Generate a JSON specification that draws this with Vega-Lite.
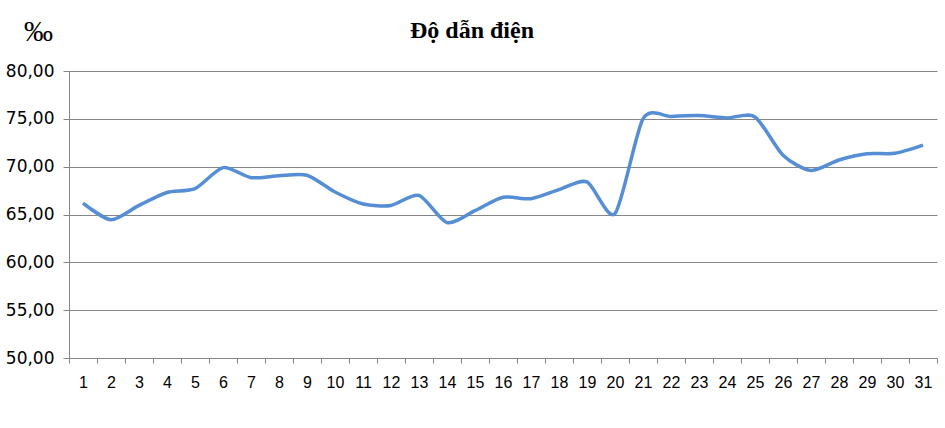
{
  "$schema": "https://vega.github.io/schema/vega-lite/v6.json",
  "width": 868,
  "height": 287,
  "autosize": {"type": "none"},
  "padding": {"left": 69, "top": 71, "right": 8, "bottom": 70},
  "background": "white",
  "config": {
    "view": {"stroke": null},
    "locale": {"number": {"decimal": ",", "thousands": ".", "grouping": [3], "currency": ["", ""]}}
  },
  "title": {
    "text": "Độ dẫn điện",
    "font": "Liberation Serif",
    "fontSize": 24,
    "fontWeight": "bold",
    "color": "#000000",
    "anchor": "middle",
    "frame": "group",
    "baseline": "alphabetic",
    "dx": -31,
    "offset": -45
  },
  "data": {
    "values": [
      {"day": 1, "v": 66.2},
      {"day": 2, "v": 64.45},
      {"day": 3, "v": 65.95},
      {"day": 4, "v": 67.3},
      {"day": 5, "v": 67.7},
      {"day": 6, "v": 69.9},
      {"day": 7, "v": 68.85},
      {"day": 8, "v": 69.05},
      {"day": 9, "v": 69.1},
      {"day": 10, "v": 67.35},
      {"day": 11, "v": 66.1},
      {"day": 12, "v": 65.95},
      {"day": 13, "v": 67.0},
      {"day": 14, "v": 64.15},
      {"day": 15, "v": 65.4},
      {"day": 16, "v": 66.8},
      {"day": 17, "v": 66.65},
      {"day": 18, "v": 67.6},
      {"day": 19, "v": 68.4},
      {"day": 20, "v": 65.1},
      {"day": 21, "v": 75.0},
      {"day": 22, "v": 75.25},
      {"day": 23, "v": 75.35},
      {"day": 24, "v": 75.1},
      {"day": 25, "v": 75.2},
      {"day": 26, "v": 71.2},
      {"day": 27, "v": 69.6},
      {"day": 28, "v": 70.7},
      {"day": 29, "v": 71.35},
      {"day": 30, "v": 71.4},
      {"day": 31, "v": 72.25}
    ]
  },
  "resolve": {"axis": {"x": "independent"}},
  "layer": [
    {
      "mark": {"type": "rule", "strokeOpacity": 0},
      "encoding": {
        "x": {
          "field": "day",
          "type": "quantitative",
          "scale": {"domain": [0.5, 31.5], "nice": false, "zero": false},
          "axis": {
            "orient": "bottom",
            "title": null,
            "values": [0.5,1.5,2.5,3.5,4.5,5.5,6.5,7.5,8.5,9.5,10.5,11.5,12.5,13.5,14.5,15.5,16.5,17.5,18.5,19.5,20.5,21.5,22.5,23.5,24.5,25.5,26.5,27.5,28.5,29.5,30.5,31.5],
            "labels": false,
            "grid": false,
            "domain": true,
            "domainColor": "#868686",
            "domainWidth": 1,
            "ticks": true,
            "tickColor": "#868686",
            "tickSize": 5
          }
        }
      }
    },
    {
      "mark": {"type": "line", "interpolate": "cardinal", "tension": 0.25, "color": "#558ED5", "strokeWidth": 3.5},
      "encoding": {
        "x": {
          "field": "day",
          "type": "quantitative",
          "axis": {
            "orient": "bottom",
            "title": null,
            "values": [1,2,3,4,5,6,7,8,9,10,11,12,13,14,15,16,17,18,19,20,21,22,23,24,25,26,27,28,29,30,31],
            "format": "d",
            "grid": false,
            "ticks": false,
            "domain": false,
            "labelFont": "Liberation Sans Narrow, Liberation Sans",
            "labelFontSize": 16,
            "labelColor": "#000000",
            "labelPadding": 16,
            "labelFlush": false,
            "labelOverlap": false
          }
        },
        "y": {
          "field": "v",
          "type": "quantitative",
          "scale": {"domain": [50, 80], "nice": false, "zero": false},
          "axis": {
            "title": "‰",
            "titleAngle": 0,
            "titleFont": "Liberation Serif",
            "titleFontSize": 29,
            "titleFontWeight": "normal",
            "titleColor": "#000000",
            "titleX": -31,
            "titleY": -40,
            "titleAlign": "center",
            "titleBaseline": "middle",
            "values": [50, 55, 60, 65, 70, 75, 80],
            "format": ",.2f",
            "grid": true,
            "gridColor": "#868686",
            "gridWidth": 1,
            "domain": true,
            "domainColor": "#868686",
            "tickColor": "#868686",
            "tickSize": 6,
            "labelFont": "DejaVu Sans",
            "labelFontSize": 17,
            "labelColor": "#000000",
            "labelPadding": 9
          }
        }
      }
    }
  ]
}
